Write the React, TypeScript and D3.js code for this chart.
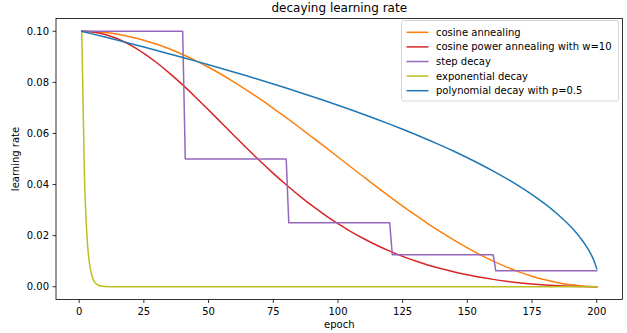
import React from 'react';
import * as d3 from 'd3';

// epochs sampled every 5 (shared by the smooth schedules)
const epochs = [1, 5, 10, 15, 20, 25, 30, 35, 40, 45, 50, 55, 60, 65, 70, 75, 80, 85, 90, 95, 100,
  105, 110, 115, 120, 125, 130, 135, 140, 145, 150, 155, 160, 165, 170, 175, 180, 185, 190, 195, 200];

const cosineRate = [0.1, 0.0999, 0.0995, 0.0988, 0.09779, 0.09649, 0.0949, 0.09304, 0.09091, 0.08853,
  0.08591, 0.08307, 0.08002, 0.07679, 0.0734, 0.06986, 0.0662, 0.06243, 0.0586, 0.05471, 0.05079,
  0.04686, 0.04296, 0.03909, 0.0353, 0.03159, 0.028, 0.02455, 0.02125, 0.01813, 0.0152, 0.01249,
  0.01002, 0.00778, 0.00581, 0.00411, 0.0027, 0.00157, 0.00074, 0.00022, 0.00001];

const cosPowerRate = [0.1, 0.09975, 0.09873, 0.09696, 0.09449, 0.09137, 0.08769, 0.08354, 0.079, 0.0742,
  0.0692, 0.06412, 0.05903, 0.05401, 0.04911, 0.04439, 0.03991, 0.03568, 0.03172, 0.02805, 0.02467,
  0.02157, 0.01877, 0.01622, 0.01393, 0.01189, 0.01006, 0.00844, 0.00701, 0.00576, 0.00466, 0.00371,
  0.00288, 0.00218, 0.00159, 0.0011, 0.00071, 0.00041, 0.00019, 0.00006, 0.00002];

const stepEpochs = [1, 40, 41, 80, 81, 120, 121, 160, 161, 200];
const stepRate = [0.1, 0.1, 0.05, 0.05, 0.025, 0.025, 0.0125, 0.0125, 0.00625, 0.00625];

const expEpochs = [1, 2, 3, 4, 5, 6, 7, 8, 10, 15, 200];
const expRate = [0.1, 0.045, 0.02, 0.0091, 0.0041, 0.0018, 0.00082, 0.00037, 0.00007, 0.0, 0.0];

const polyEpochs = [1, 5, 10, 15, 20, 25, 30, 35, 40, 45, 50, 55, 60, 65, 70, 75, 80, 85, 90, 95, 100,
  105, 110, 115, 120, 125, 130, 135, 140, 145, 150, 155, 160, 165, 170, 175, 180, 185, 190, 192, 194,
  196, 197, 198, 199, 200];
const polyRate = [0.1, 0.09899, 0.09772, 0.09644, 0.09513, 0.09381, 0.09247, 0.0911, 0.08972, 0.08832,
  0.08689, 0.08544, 0.08396, 0.08246, 0.08093, 0.07937, 0.07778, 0.07616, 0.0745, 0.0728, 0.07106,
  0.06928, 0.06745, 0.06557, 0.06364, 0.06164, 0.05958, 0.05745, 0.05523, 0.05292, 0.0505, 0.04796,
  0.04528, 0.04243, 0.03937, 0.03606, 0.0324, 0.02828, 0.02345, 0.02121, 0.01871, 0.01581, 0.01414,
  0.01225, 0.01, 0.00707];

const xTicks = [0, 25, 50, 75, 100, 125, 150, 175, 200];
const yTicks = [0.0, 0.02, 0.04, 0.06, 0.08, 0.1];

const series = [
  { label: 'cosine annealing', color: '#ff7f0e', xs: epochs, ys: cosineRate, curve: d3.curveMonotoneX },
  { label: 'cosine power annealing with w=10', color: '#d62728', xs: epochs, ys: cosPowerRate, curve: d3.curveMonotoneX },
  { label: 'step decay', color: '#9467bd', xs: stepEpochs, ys: stepRate, curve: d3.curveLinear },
  { label: 'exponential decay', color: '#bcbd22', xs: expEpochs, ys: expRate, curve: d3.curveMonotoneX },
  { label: 'polynomial decay with p=0.5', color: '#1f77b4', xs: polyEpochs, ys: polyRate, curve: d3.curveMonotoneX },
];

const width = 627;
const height = 333;
const margin = { top: 18.5, right: 4.5, bottom: 33.5, left: 56 };
const font = '"DejaVu Sans", sans-serif';

export default function App() {
  const innerW = width - margin.left - margin.right;
  const innerH = height - margin.top - margin.bottom;

  const xScale = d3.scaleLinear().domain([-8.95, 209.95]).range([0, innerW]);
  const yScale = d3.scaleLinear().domain([-0.005, 0.105]).range([innerH, 0]);
  const fmt = d3.format('.2f');

  const legendX = 401.5 - margin.left;
  const legendY = 20.5 - margin.top;
  const legendW = 217;
  const rowH = 14.6;

  return (
    <svg width={width} height={height} style={{ position: 'fixed', left: 0, top: 0, background: '#fff' }}
      fontFamily={font}>
      <rect width={width} height={height} fill="#fff" />
      <text x={margin.left + innerW / 2} y={12} textAnchor="middle" fontSize={12}>decaying learning rate</text>
      <g transform={`translate(${margin.left},${margin.top})`}>
        <defs>
          <clipPath id="plotclip"><rect width={innerW} height={innerH} /></clipPath>
        </defs>
        <g clipPath="url(#plotclip)">
          {series.map(s => {
            const pts = s.xs.map((x, i) => [x, s.ys[i]] as [number, number]);
            const line = d3.line<[number, number]>()
              .x(d => xScale(d[0]))
              .y(d => yScale(d[1]))
              .curve(s.curve);
            return <path key={s.label} d={line(pts) || ''} fill="none" stroke={s.color} strokeWidth={1.5}
              strokeLinejoin="round" strokeLinecap="square" />;
          })}
        </g>
        <rect width={innerW} height={innerH} fill="none" stroke="#000" strokeWidth={0.8} />
        {xTicks.map(t => (
          <g key={t} transform={`translate(${xScale(t)},${innerH})`}>
            <line y2={3.5} stroke="#000" strokeWidth={0.8} />
            <text y={15.5} textAnchor="middle" fontSize={10}>{t}</text>
          </g>
        ))}
        {yTicks.map(t => (
          <g key={t} transform={`translate(0,${yScale(t)})`}>
            <line x2={-3.5} stroke="#000" strokeWidth={0.8} />
            <text x={-7} dy="0.35em" textAnchor="end" fontSize={10}>{fmt(t)}</text>
          </g>
        ))}
        <text x={innerW / 2} y={innerH + 28.5} textAnchor="middle" fontSize={10}>epoch</text>
        <text transform={`translate(${-37},${innerH / 2}) rotate(-90)`} textAnchor="middle" fontSize={10}>learning rate</text>
        <g transform={`translate(${legendX},${legendY})`}>
          <rect width={legendW} height={80.5} rx={2} fill="#fff" fillOpacity={0.8} stroke="#ccc" strokeWidth={0.8} />
          {series.map((s, i) => (
            <g key={s.label} transform={`translate(0,${11.8 + i * rowH})`}>
              <line x1={5} x2={27} stroke={s.color} strokeWidth={1.5} />
              <text x={34.5} dy="0.35em" fontSize={10}>{s.label}</text>
            </g>
          ))}
        </g>
      </g>
    </svg>
  );
}
